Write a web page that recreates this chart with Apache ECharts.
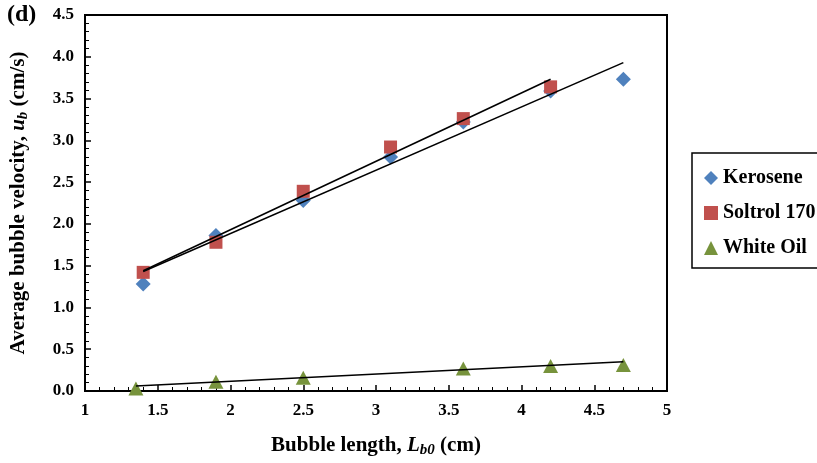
<!DOCTYPE html>
<html>
<head>
<meta charset="utf-8">
<script src="https://cdn.jsdelivr.net/npm/echarts@6/dist/echarts.min.js"></script>
<style>html,body{margin:0;padding:0;background:#fff}#c{width:817px;height:463px}</style>
</head>
<body>
<div id="c"></div>
<script>
const keroseneX = [1.4, 1.9, 2.5, 3.1, 3.6, 4.2, 4.7];
const keroseneY = [1.28, 1.86, 2.28, 2.80, 3.22, 3.59, 3.73];
const soltrolX = [1.4, 1.9, 2.5, 3.1, 3.6, 4.2];
const soltrolY = [1.42, 1.78, 2.39, 2.92, 3.26, 3.64];
const whiteOilX = [1.35, 1.9, 2.5, 3.6, 4.2, 4.7];
const whiteOilY = [0.03, 0.11, 0.16, 0.27, 0.30, 0.31];
// trend line endpoints [x, y]
const keroseneFit = [[1.4, 1.43], [4.7, 3.93]];
const soltrolFit = [[1.4, 1.44], [4.2, 3.73]];
const whiteOilFit = [[1.35, 0.06], [4.7, 0.35]];
const seriesNames = ['Kerosene', 'Soltrol 170', 'White Oil'];

const pair = (xs, ys) => xs.map((x, i) => [x, ys[i]]);
const FONT = 'Liberation Serif';
const chart = echarts.init(document.getElementById('c'));
const fitLine = d => ({type: 'line', data: d, showSymbol: false, symbol: 'none', silent: true,
  lineStyle: {color: '#000', width: 1.6}, z: 3, legendHoverLink: false});
const nameRich = {
  b: {fontFamily: FONT, fontWeight: 'bold', fontSize: 21, color: '#000'},
  i: {fontFamily: FONT, fontWeight: 'bold', fontStyle: 'italic', fontSize: 21, color: '#000'},
  s: {fontFamily: FONT, fontWeight: 'bold', fontStyle: 'italic', fontSize: 15, color: '#000', verticalAlign: 'bottom', padding: [9, 0, 0, 0]}
};
chart.setOption({
  animation: false,
  textStyle: {fontFamily: FONT},
  grid: {left: 85, right: 150, top: 15, bottom: 71, show: true, borderColor: '#000', borderWidth: 2},
  graphic: [{type: 'text', left: 7, top: 3, style: {text: '(d)', font: 'bold 24px "Liberation Serif"', fill: '#000'}}],
  legend: {
    orient: 'vertical', left: 692, top: 153,
    data: [{name: seriesNames[0], icon: 'diamond'}, {name: seriesNames[1], icon: 'rect'}, {name: seriesNames[2], icon: 'triangle'}],
    itemWidth: 14, itemHeight: 14, itemGap: 15,
    padding: [15, 20, 10, 12],
    borderColor: '#000', borderWidth: 1.5,
    textStyle: {fontFamily: FONT, fontWeight: 'bold', fontSize: 20, color: '#000'}
  },
  xAxis: {
    type: 'value', min: 1, max: 5, interval: 0.5,
    name: '{b|Bubble length, }{i|L}{s|b0}{b| (cm)}', nameLocation: 'middle', nameGap: 43,
    nameTextStyle: {rich: nameRich},
    axisLine: {lineStyle: {color: '#000', width: 2}},
    axisTick: {inside: true, length: 6, lineStyle: {color: '#000', width: 1.5}},
    minorTick: {show: true, splitNumber: 5, length: 4, lineStyle: {color: '#000', width: 1}},
    splitLine: {show: false},
    axisLabel: {color: '#000', fontFamily: FONT, fontWeight: 'bold', fontSize: 17, margin: 11}
  },
  yAxis: {
    type: 'value', min: 0, max: 4.5, interval: 0.5,
    name: '{b|Average bubble velocity, }{i|u}{s|b}{b| (cm/s)}', nameLocation: 'middle', nameGap: 54,
    nameTextStyle: {rich: nameRich},
    axisLine: {lineStyle: {color: '#000', width: 2}},
    axisTick: {inside: true, length: 6, lineStyle: {color: '#000', width: 1.5}},
    minorTick: {show: true, splitNumber: 5, length: 4, lineStyle: {color: '#000', width: 1}},
    splitLine: {show: false},
    axisLabel: {color: '#000', fontFamily: FONT, fontWeight: 'bold', fontSize: 17, margin: 11, formatter: v => v.toFixed(1)}
  },
  series: [
    {name: seriesNames[0], type: 'scatter', data: pair(keroseneX, keroseneY), symbol: 'diamond', symbolSize: [15, 15],
      itemStyle: {color: '#4F81BD', opacity: 1}, z: 2},
    {name: seriesNames[1], type: 'scatter', data: pair(soltrolX, soltrolY), symbol: 'rect', symbolSize: [13, 13],
      itemStyle: {color: '#C0504D', opacity: 1}, z: 2},
    {name: seriesNames[2], type: 'scatter', data: pair(whiteOilX, whiteOilY), symbol: 'triangle', symbolSize: [15, 14],
      itemStyle: {color: '#77933C', opacity: 1}, z: 2},
    fitLine(keroseneFit), fitLine(soltrolFit), fitLine(whiteOilFit)
  ]
});
</script>
</body>
</html>
